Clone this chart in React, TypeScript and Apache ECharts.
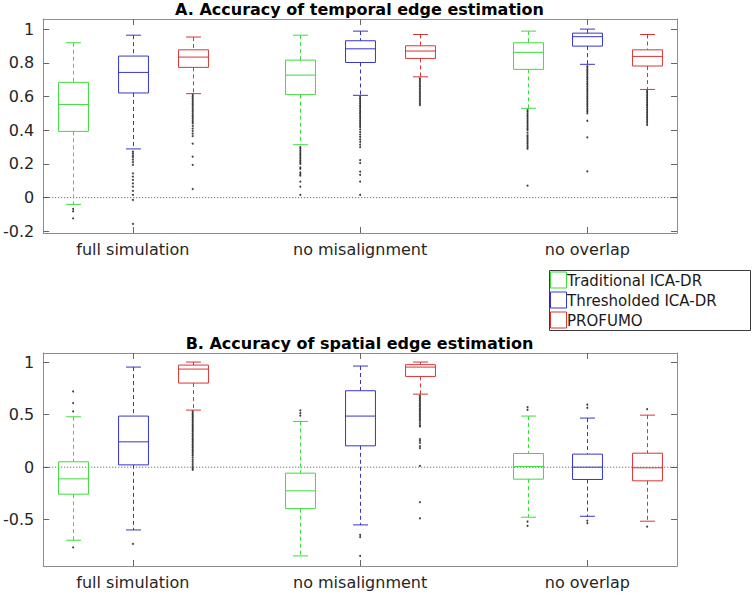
import React, { useEffect, useRef } from "react";
import * as echarts from "echarts";

// ---------- data ----------
const groups = ["full simulation", "no misalignment", "no overlap"];
const methods = ["Traditional ICA-DR", "Thresholded ICA-DR", "PROFUMO"];
const groupCenters = [2, 5.8, 9.6];
const methodOffsets = [-1, 0, 1];

// box stats per group: [lowerWhisker, q1, median, q3, upperWhisker]
const tTradStats = [
  [-0.04, 0.393, 0.553, 0.684, 0.919],
  [0.314, 0.611, 0.727, 0.816, 0.964],
  [0.53, 0.761, 0.862, 0.919, 0.988],
];
const tThrStats = [
  [0.289, 0.621, 0.743, 0.84, 0.964],
  [0.607, 0.802, 0.883, 0.931, 0.988],
  [0.791, 0.899, 0.955, 0.976, 1.0],
];
const tProStats = [
  [0.617, 0.773, 0.834, 0.877, 0.953],
  [0.717, 0.826, 0.87, 0.901, 0.968],
  [0.642, 0.781, 0.838, 0.877, 0.968],
];

const sTradStats = [
  [-0.695, -0.257, -0.111, 0.051, 0.479],
  [-0.844, -0.394, -0.225, -0.057, 0.435],
  [-0.476, -0.114, 0.006, 0.13, 0.486],
];
const sThrStats = [
  [-0.597, 0.022, 0.241, 0.486, 0.952],
  [-0.549, 0.203, 0.486, 0.727, 0.962],
  [-0.467, -0.117, 0.0, 0.124, 0.467],
];
const sProStats = [
  [0.543, 0.8, 0.933, 0.971, 1.0],
  [0.695, 0.863, 0.952, 0.975, 1.0],
  [-0.514, -0.13, -0.006, 0.133, 0.495],
];

// outliers per group
const tTradOut = [
  [-0.067, -0.081, -0.123],
  [0.3, 0.29, 0.28, 0.27, 0.26, 0.25, 0.24, 0.23, 0.22, 0.21, 0.2, 0.18, 0.17, 0.15, 0.14, 0.13, 0.095, 0.065, 0.016],
  [0.52, 0.51, 0.5, 0.49, 0.48, 0.47, 0.46, 0.45, 0.44, 0.43, 0.42, 0.41, 0.4, 0.385, 0.37, 0.36, 0.35, 0.34, 0.33, 0.32, 0.31, 0.3, 0.29, 0.071],
];
const tThrOut = [
  [0.273, 0.262, 0.25, 0.24, 0.225, 0.21, 0.194, 0.144, 0.125, 0.105, 0.085, 0.065, 0.04, 0.016, -0.014, -0.156],
  [0.598, 0.588, 0.578, 0.568, 0.558, 0.548, 0.538, 0.528, 0.518, 0.508, 0.498, 0.488, 0.478, 0.468, 0.458, 0.448, 0.438, 0.428, 0.418, 0.405, 0.39, 0.375, 0.36, 0.345, 0.33, 0.315, 0.3, 0.223, 0.205, 0.154, 0.135, 0.095, 0.016],
  [0.78, 0.77, 0.76, 0.75, 0.74, 0.73, 0.72, 0.71, 0.7, 0.69, 0.68, 0.67, 0.66, 0.65, 0.64, 0.63, 0.62, 0.61, 0.6, 0.59, 0.58, 0.57, 0.56, 0.55, 0.54, 0.53, 0.52, 0.51, 0.5, 0.456, 0.358, 0.156],
];
const tProOut = [
  [0.61, 0.6, 0.59, 0.58, 0.57, 0.56, 0.55, 0.54, 0.53, 0.52, 0.51, 0.5, 0.49, 0.48, 0.47, 0.46, 0.45, 0.44, 0.425, 0.41, 0.395, 0.38, 0.365, 0.32, 0.243, 0.194, 0.051],
  [0.708, 0.698, 0.688, 0.678, 0.668, 0.658, 0.648, 0.638, 0.628, 0.618, 0.608, 0.598, 0.588, 0.578, 0.568, 0.558, 0.549],
  [0.634, 0.624, 0.614, 0.604, 0.594, 0.584, 0.574, 0.564, 0.554, 0.544, 0.534, 0.524, 0.514, 0.504, 0.494, 0.484, 0.474, 0.464, 0.454, 0.444, 0.431],
];

const sTradOut = [
  [0.72, 0.61, 0.53, -0.762],
  [0.54, 0.515, 0.49],
  [0.571, 0.546, -0.517, -0.559],
];
const sThrOut = [
  [-0.73],
  [-0.644, -0.665, -0.844],
  [0.594, 0.565, -0.508, -0.533],
];
const sProOut = [
  [0.53, 0.515, 0.5, 0.485, 0.47, 0.455, 0.44, 0.425, 0.41, 0.395, 0.38, 0.365, 0.35, 0.335, 0.32, 0.305, 0.29, 0.275, 0.26, 0.245, 0.23, 0.215, 0.2, 0.185, 0.17, 0.155, 0.14, 0.125, 0.11, 0.09, 0.07, 0.05, 0.03, 0.01, -0.01, -0.025],
  [0.68, 0.665, 0.65, 0.635, 0.62, 0.605, 0.59, 0.575, 0.56, 0.545, 0.53, 0.515, 0.5, 0.485, 0.47, 0.455, 0.44, 0.42, 0.4, 0.387, 0.267, 0.25, 0.23, 0.2, 0.181, 0.013, -0.333, -0.486],
  [0.552, -0.565],
];

const titleA = "A. Accuracy of temporal edge estimation";
const titleB = "B. Accuracy of spatial edge estimation";
const yTicksA = [-0.2, 0, 0.2, 0.4, 0.6, 0.8, 1];
const yTicksB = [-0.5, 0, 0.5, 1];

// ---------- styling ----------
const colors = ["#3ddc3d", "#3535cc", "#d93535"];
const FONT = "DejaVu Sans";
const AXIS_COLOR = "#8c8c8c";
const TEXT_COLOR = "#262626";

const X_MIN = 0.5;
const X_MAX = 11.1;
const GRID_LEFT = 42;
const GRID_WIDTH = 635;

const fmtNum = (v: number) => {
  const r = Math.round(v * 10) / 10;
  return String(r);
};

function renderBox(params: any, api: any) {
  const x = api.value(0);
  const lo = api.coord([x, api.value(1)]);
  const q1 = api.coord([x, api.value(2)]);
  const med = api.coord([x, api.value(3)]);
  const q3 = api.coord([x, api.value(4)]);
  const hi = api.coord([x, api.value(5)]);
  const color = api.visual("color");
  const halfW = api.size([0.5, 0])[0] / 2;
  const capHalf = halfW / 2;
  const cx = Math.round(lo[0]) + 0.5;
  const solid = { stroke: color, lineWidth: 1, fill: "none" };
  const dashed = { stroke: color, lineWidth: 1, lineDash: [4, 3], fill: "none" };
  return {
    type: "group",
    children: [
      { type: "line", shape: { x1: cx, y1: hi[1], x2: cx, y2: q3[1] }, style: dashed },
      { type: "line", shape: { x1: cx, y1: q1[1], x2: cx, y2: lo[1] }, style: dashed },
      { type: "line", shape: { x1: cx - capHalf, y1: hi[1], x2: cx + capHalf, y2: hi[1] }, style: solid },
      { type: "line", shape: { x1: cx - capHalf, y1: lo[1], x2: cx + capHalf, y2: lo[1] }, style: solid },
      {
        type: "rect",
        shape: { x: cx - halfW, y: q3[1], width: halfW * 2, height: q1[1] - q3[1] },
        style: solid,
      },
      { type: "line", shape: { x1: cx - halfW, y1: med[1], x2: cx + halfW, y2: med[1] }, style: solid },
    ],
  };
}

function buildAxes(gridIndex: number, yMin: number, yMax: number, yTicks: number[]) {
  const tickStyle = { color: "#666", width: 1 };
  const xLabelFmt = (v: number) => {
    const i = groupCenters.findIndex((c) => Math.abs(c - v) < 1e-6);
    return i >= 0 ? groups[i] : "";
  };
  const xAxes = [
    {
      gridIndex,
      type: "value",
      position: "bottom",
      min: X_MIN,
      max: X_MAX,
      axisLine: { show: true, onZero: false, lineStyle: { color: AXIS_COLOR } },
      axisTick: { show: true, inside: true, length: 6, customValues: groupCenters, lineStyle: tickStyle },
      axisLabel: {
        show: true,
        customValues: groupCenters,
        formatter: xLabelFmt,
        fontSize: 16,
        fontFamily: FONT,
        color: TEXT_COLOR,
        margin: 8,
      },
      splitLine: { show: false },
    },
    {
      gridIndex,
      type: "value",
      position: "top",
      min: X_MIN,
      max: X_MAX,
      axisLine: { show: true, onZero: false, lineStyle: { color: AXIS_COLOR } },
      axisTick: { show: true, inside: true, length: 6, customValues: groupCenters, lineStyle: tickStyle },
      axisLabel: { show: false },
      splitLine: { show: false },
    },
  ];
  const yAxes = [
    {
      gridIndex,
      type: "value",
      position: "left",
      min: yMin,
      max: yMax,
      axisLine: { show: true, onZero: false, lineStyle: { color: AXIS_COLOR } },
      axisTick: { show: true, inside: true, length: 6, customValues: yTicks, lineStyle: tickStyle },
      axisLabel: {
        show: true,
        customValues: yTicks,
        formatter: fmtNum,
        fontSize: 16,
        fontFamily: FONT,
        color: TEXT_COLOR,
        margin: 9,
      },
      splitLine: { show: false },
    },
    {
      gridIndex,
      type: "value",
      position: "right",
      min: yMin,
      max: yMax,
      axisLine: { show: true, onZero: false, lineStyle: { color: AXIS_COLOR } },
      axisTick: { show: true, inside: true, length: 6, customValues: yTicks, lineStyle: tickStyle },
      axisLabel: { show: false },
      splitLine: { show: false },
    },
  ];
  return { xAxes, yAxes };
}

function buildSeries(
  axisBase: number,
  statsList: number[][][],
  outList: number[][][],
) {
  const series: any[] = [];
  series.push({
    type: "line",
    xAxisIndex: axisBase,
    yAxisIndex: axisBase,
    data: [
      [X_MIN, 0],
      [X_MAX, 0],
    ],
    showSymbol: false,
    silent: true,
    lineStyle: { color: "#222", width: 0.8, type: [1, 2] },
    z: 1,
  });
  methods.forEach((m, mi) => {
    const stats = statsList[mi];
    series.push({
      name: m,
      type: "custom",
      xAxisIndex: axisBase,
      yAxisIndex: axisBase,
      renderItem: renderBox,
      itemStyle: { color: colors[mi] },
      dimensions: ["x", "lo", "q1", "med", "q3", "hi"],
      encode: { x: 0, y: [1, 2, 3, 4, 5] },
      data: stats.map((s, gi) => [groupCenters[gi] + methodOffsets[mi], ...s]),
      z: 3,
    });
  });
  methods.forEach((m, mi) => {
    const outs = outList[mi];
    const data: number[][] = [];
    outs.forEach((vals, gi) => {
      vals.forEach((v) => data.push([groupCenters[gi] + methodOffsets[mi], v]));
    });
    series.push({
      name: m + " outliers",
      type: "scatter",
      xAxisIndex: axisBase,
      yAxisIndex: axisBase,
      symbol: "circle",
      symbolSize: 2,
      itemStyle: { color: "#111" },
      data,
      silent: true,
      z: 4,
    });
  });
  return series;
}

export default function App() {
  const ref = useRef<HTMLDivElement>(null);
  useEffect(() => {
    document.body.style.margin = "0";
    if (!ref.current) return;
    const chart = echarts.init(ref.current, undefined, { renderer: "svg" });

    const a = buildAxes(0, -0.21, 1.06, yTicksA);
    const b = buildAxes(1, -0.94, 1.086, yTicksB);

    const seriesA = buildSeries(0, [tTradStats, tThrStats, tProStats], [tTradOut, tThrOut, tProOut]);
    const seriesB = buildSeries(2, [sTradStats, sThrStats, sProStats], [sTradOut, sThrOut, sProOut]);

    const legendX = 549.5;
    const legendY = 270.5;
    const legendChildren: any[] = [
      {
        type: "rect",
        id: "legend-bg",
        z: 10,
        shape: { x: legendX, y: legendY, width: 201, height: 60 },
        style: { fill: "#ffffff", stroke: "#3a3a3a", lineWidth: 1 },
      },
    ];
    methods.forEach((m, i) => {
      legendChildren.push({
        type: "rect",
        id: "legend-sq-" + i,
        z: 12,
        shape: { x: legendX + 1, y: legendY + 1.5 + i * 20, width: 16, height: 16 },
        style: { fill: "rgba(255,255,255,0)", stroke: colors[i], lineWidth: 1 },
      });
      legendChildren.push({
        type: "text",
        id: "legend-tx-" + i,
        z: 12,
        style: {
          text: m,
          x: 567,
          y: legendY + 10 + i * 20,
          textAlign: "left",
          textVerticalAlign: "middle",
          font: `15px "${FONT}"`,
          fill: "#1a1a1a",
        },
      });
    });

    const option: any = {
      animation: false,
      backgroundColor: "#ffffff",
      grid: [
        { left: GRID_LEFT, top: 19, width: GRID_WIDTH, height: 214 },
        { left: GRID_LEFT, top: 353, width: GRID_WIDTH, height: 213 },
      ],
      xAxis: [...a.xAxes, ...b.xAxes],
      yAxis: [...a.yAxes, ...b.yAxes],
      series: [...seriesA, ...seriesB],
      graphic: [
        {
          type: "text",
          id: "title-a",
          style: {
            text: titleA,
            x: GRID_LEFT + GRID_WIDTH / 2,
            y: 9,
            textAlign: "center",
            textVerticalAlign: "middle",
            font: `bold 16px "${FONT}"`,
            fill: "#000",
          },
        },
        {
          type: "text",
          id: "title-b",
          style: {
            text: titleB,
            x: GRID_LEFT + GRID_WIDTH / 2,
            y: 343,
            textAlign: "center",
            textVerticalAlign: "middle",
            font: `bold 16px "${FONT}"`,
            fill: "#000",
          },
        },
        ...legendChildren,
      ],
    };
    chart.setOption(option);
    return () => chart.dispose();
  }, []);
  return <div ref={ref} style={{ width: 752, height: 593 }} />;
}
